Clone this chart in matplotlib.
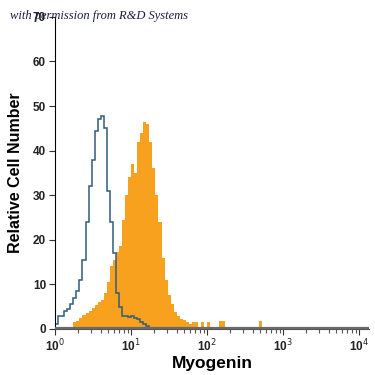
import numpy as np
import matplotlib
matplotlib.use("Agg")
import matplotlib.pyplot as plt

# histogram bins: uniform in log10 space, starting at 10^0
bin_width = 0.04

# isotype control (blue outline)
isotype = [1, 3, 3, 4, 4.5, 5.5, 7, 8.5, 11, 15.5, 24, 32, 38, 44.5, 47, 47.8,
           45, 31, 24, 17, 8, 5, 2.8, 2.8, 2.7, 2.9, 2.5, 2.2, 1.5, 1.2, 0.6, 0.3]

# anti-Myogenin (orange filled)
myogenin = [0, 0, 0, 0, 0, 0, 1.6, 1.8, 2.5, 3.1, 3.6, 4.0, 4.7, 5.3, 6, 6.5,
            8, 10.5, 14, 15.5, 17.3, 18.5, 24.4, 30, 34, 37, 35, 42, 44, 46.4, 46, 42,
            36, 30, 24, 16, 11, 7.5, 5.5, 3.8, 2.8, 2.2, 2.0, 1.6, 1.0, 1.6, 1.6, 0.5,
            1.6, 0.5, 1.6, 0.5, 0.5, 0.3, 1.8, 1.8, 0.3, 0.3, 0.3, 0.3, 0.3, 0.3,
            0.3, 0.3, 0.3, 0.3, 0.3, 1.8, 0.3]

y_ticks = [0, 10, 20, 30, 40, 50, 60, 70]
x_ticks = [1, 10, 100, 1000, 10000]
x_ticklabels = ["10$^0$", "10$^1$", "10$^2$", "10$^3$", "10$^4$"]

orange = "#f7a11f"
blue = "#2f5d7c"

fig = plt.figure(figsize=(3.75, 3.75), dpi=100)
ax = fig.add_axes([0.147, 0.123, 0.837, 0.832])

edges_o = 10 ** (np.arange(len(myogenin) + 1) * bin_width)
edges_b = 10 ** (np.arange(len(isotype) + 1) * bin_width)

ax.stairs(myogenin, edges_o, fill=True, color=orange, lw=0)
ax.stairs(isotype, edges_b, color=blue, lw=1.1)
ax.axhline(0.3, color="#6b6b6b", lw=1.6, zorder=3)

ax.set_xscale("log")
ax.set_xlim(1, 10 ** 4.13)
ax.set_ylim(0, 70)

ax.spines["top"].set_visible(False)
ax.spines["right"].set_visible(False)
ax.spines["bottom"].set_color("#555555")

ax.set_yticks(y_ticks)
ax.set_xticks(x_ticks)
ax.set_xticklabels(x_ticklabels)
ax.tick_params(axis="both", direction="out", labelsize=8.5, length=4, width=0.8, colors="#333333", pad=2.5)
ax.tick_params(axis="x", which="minor", length=3, width=0.8, colors="#555555")
for lab in ax.get_xticklabels() + ax.get_yticklabels():
    lab.set_fontweight("bold")
    lab.set_color("#222222")
    lab.set_family("Liberation Sans")

ax.set_xlabel("Myogenin", fontsize=12.5, fontweight="bold", family="Liberation Sans", labelpad=1)
ax.set_ylabel("Relative Cell Number", fontsize=11.5, fontweight="bold", family="Liberation Sans", labelpad=7)

fig.text(0.027, 0.958, "with permission from R&D Systems", fontsize=9, style="italic",
         family="Liberation Serif", color="#1c1c44", va="center")

fig.savefig("out.png", dpi=100)
